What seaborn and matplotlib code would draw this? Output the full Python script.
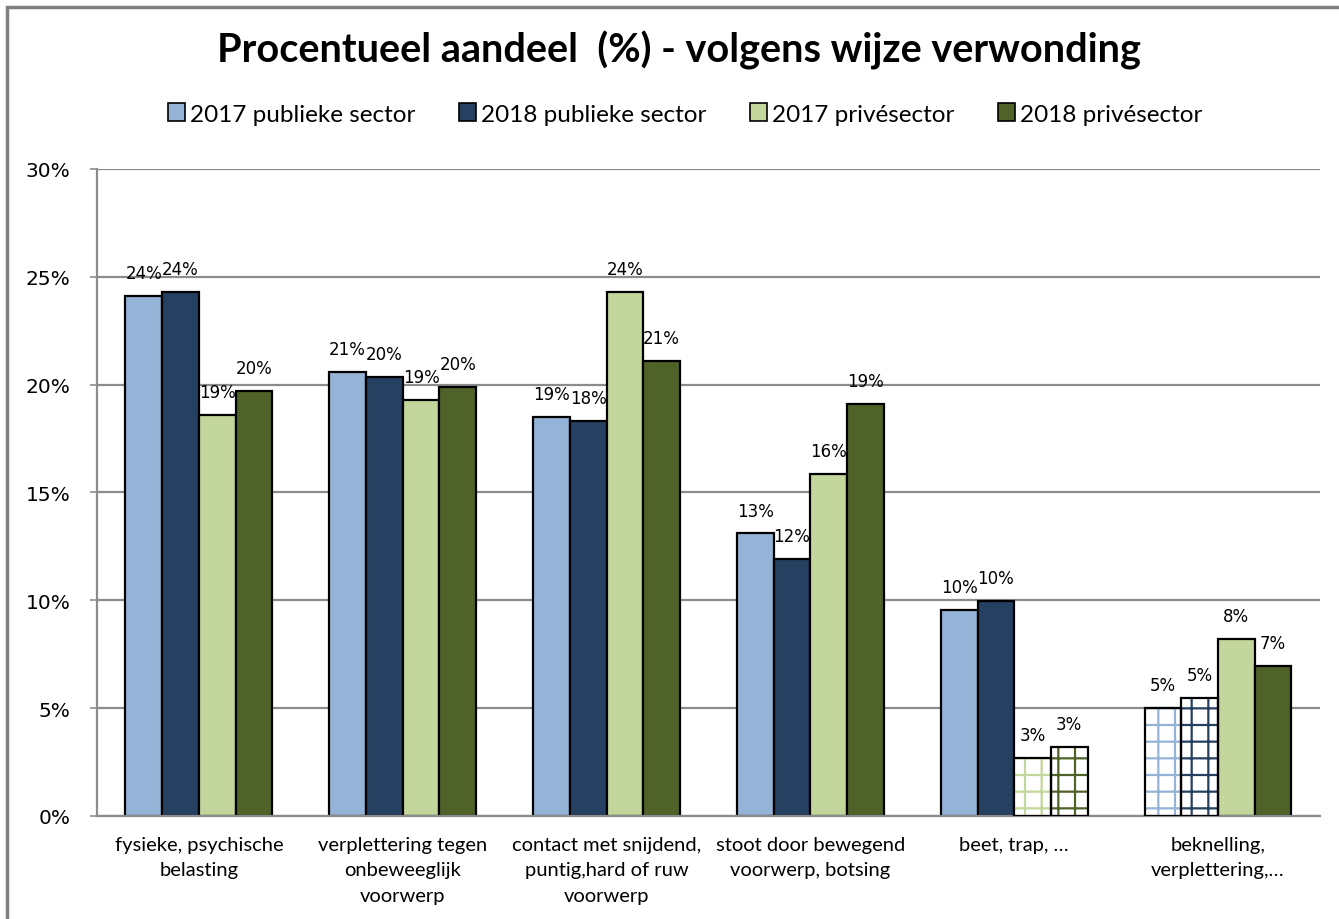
import pandas as pd
import numpy as np
import matplotlib.pyplot as plt
import matplotlib.patches as mpatches
from matplotlib.ticker import PercentFormatter
import seaborn as sns

categorieen = ['fysieke, psychische\nbelasting',
               'verplettering tegen\nonbeweeglijk\nvoorwerp',
               'contact met snijdend,\npuntig,hard of ruw\nvoorwerp',
               'stoot door bewegend\nvoorwerp, botsing',
               'beet, trap, …',
               'beknelling,\nverplettering,…']
series = ['2017 publieke sector', '2018 publieke sector', '2017 privésector', '2018 privésector']
pub_2017 = [24.1, 20.6, 18.52, 13.1, 9.55, 5.0]
pub_2018 = [24.3, 20.35, 18.3, 11.9, 9.97, 5.47]
priv_2017 = [18.6, 19.3, 24.3, 15.85, 2.7, 8.2]
priv_2018 = [19.7, 19.9, 21.1, 19.1, 3.2, 6.95]
kleuren = ['#95B3D7', '#254061', '#C3D69B', '#4F6228']
# bars met ruitjespatroon: (serie, categorie)
geruit = [(2, 4), (3, 4), (0, 5), (1, 5)]

waarden = [pub_2017, pub_2018, priv_2017, priv_2018]
df = pd.DataFrame({
    'categorie': categorieen * 4,
    'serie': np.repeat(series, len(categorieen)),
    'waarde': np.concatenate(waarden),
})

sns.set_style('white')
plt.rcParams['font.family'] = ['Lato', 'DejaVu Sans']
plt.rcParams['hatch.linewidth'] = 1.6
plt.rcParams['text.color'] = 'black'
plt.rcParams['xtick.color'] = 'black'
plt.rcParams['ytick.color'] = 'black'

fig = plt.figure(figsize=(13.39, 9.2), dpi=100)
ax = fig.add_axes([0.0724, 0.112, 0.9134, 0.7033])

sns.barplot(data=df, x='categorie', y='waarde', hue='serie', palette=kleuren,
            saturation=1, edgecolor='black', linewidth=1.6, width=0.72, ax=ax,
            legend=False)

for s, c in geruit:
    p = ax.containers[s][c]
    p.set_facecolor('white')
    p.set_edgecolor(kleuren[s])
    p.set_hatch('+')
    p.set_linewidth(0)
    ax.add_patch(mpatches.Rectangle(p.get_xy(), p.get_width(), p.get_height(),
                                    fill=False, edgecolor='black', linewidth=1.6, zorder=3))

for s, cont in enumerate(ax.containers):
    for c, p in enumerate(cont):
        v = waarden[s][c]
        ax.annotate(f'{round(v)}%', (p.get_x() + p.get_width() / 2, v),
                    xytext=(0, 10), textcoords='offset points',
                    ha='center', va='bottom', fontsize=12, family='DejaVu Sans')

ax.set_ylim(0, 30)
ax.set_yticks(range(0, 31, 5))
ax.yaxis.set_major_formatter(PercentFormatter(decimals=0))
ax.grid(axis='y', color='#8c8c8c', linewidth=1.6)
ax.set_axisbelow(True)
ax.set_xlabel('')
ax.set_ylabel('')
for side in ['top', 'right']:
    ax.spines[side].set_visible(False)
for side in ['left', 'bottom']:
    ax.spines[side].set_color('#8c8c8c')
    ax.spines[side].set_linewidth(1.6)
ax.tick_params(axis='y', left=True, length=5, color='#8c8c8c', width=1.2,
               labelsize=14.5, pad=14, labelcolor='black')
for t in ax.get_yticklabels():
    t.set_family('DejaVu Sans')

# categorielabels zelf tekenen (regelafstand)
ax.tick_params(axis='x', bottom=False, labelbottom=False)
for i, lab in enumerate(categorieen):
    ax.text(i, -0.031, lab, transform=ax.get_xaxis_transform(), ha='center', va='top',
            fontsize=14.5, linespacing=1.6)

fig.text(0.507, 0.945, 'Procentueel aandeel  (%) - volgens wijze verwonding',
         ha='center', va='center', fontsize=28.5, fontweight='bold')

handles = [mpatches.Patch(facecolor=k, edgecolor='black', linewidth=1.2) for k in kleuren]
fig.legend(handles, series, loc='center', bbox_to_anchor=(0.512, 0.875), ncol=4,
           frameon=False, fontsize=17.5, handlelength=0.7, handleheight=0.7,
           handletextpad=0.2, columnspacing=1.8)

fig.patches.append(mpatches.Rectangle((0.0055, -0.01), 1.1, 1.0005 - 0.0095 + 0.01,
                                      transform=fig.transFigure, fill=False,
                                      edgecolor='#808080', linewidth=2.5))

fig.savefig('out.png', dpi=100)
